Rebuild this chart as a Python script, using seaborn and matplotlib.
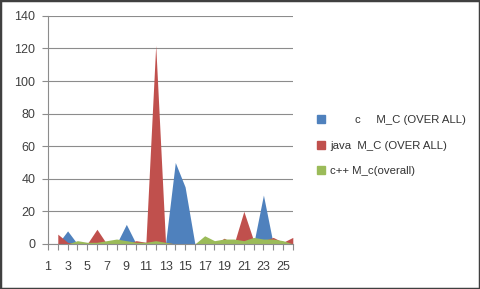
import numpy as np
import matplotlib
matplotlib.use('Agg')
import matplotlib.pyplot as plt
import matplotlib.patches as mpatches
import seaborn as sns

# categories and series values
categories = list(range(1, 27))
c_vals = [np.nan, 0, 8, 0, 0, 0, 0, 0, 12, 0, 0, 0, 0, 50, 35, 0, 0, 0, 0, 0, 0, 0, 30, 0, 0, 0]
java_vals = [np.nan, 6, 1, 0, 0, 9, 0, 0, 0, 2, 1, 122, 1, 0, 0, 0, 0, 0, 3.5, 0, 20, 2, 2, 4, 1, 4]
cpp_vals = [np.nan, 0, 0, 2, 1, 1, 2, 3, 2, 1, 1, 2, 1, 0, 0, 0, 5, 2, 3, 3, 2, 4, 3, 3, 2, 0]
labels = ['        c     M_C (OVER ALL)', 'java  M_C (OVER ALL)', 'c++ M_c(overall)']
colors = ['#4F81BD', '#C0504D', '#9BBB59']

sns.set_style('white')
plt.rcParams['font.family'] = ['Liberation Sans', 'DejaVu Sans']

fig = plt.figure(figsize=(4.8, 2.89), dpi=100)
ax = fig.add_axes([0.1, 0.156, 0.51, 0.789])

for vals, col in zip([c_vals, java_vals, cpp_vals], colors):
    ax.fill_between(categories, 0, vals, color=col, linewidth=0)

ax.set_xlim(1, 26)
ax.set_ylim(0, 140)
ax.set_yticks(range(0, 141, 20))
ax.set_xticks(categories)
ax.set_xticklabels([str(c) if c % 2 == 1 else '' for c in categories])
ax.yaxis.grid(True, color='#8c8c8c', linewidth=0.8)
ax.set_axisbelow(True)
for s in ['top', 'right']:
    ax.spines[s].set_visible(False)
ax.spines['left'].set_color('#8c8c8c')
ax.spines['bottom'].set_color('#8c8c8c')
ax.tick_params(axis='x', length=4, color='#8c8c8c', direction='out', bottom=True, labelsize=9, pad=8, labelcolor='#404040')
ax.tick_params(axis='y', length=4, color='#8c8c8c', direction='out', left=True, labelsize=9, pad=5, labelcolor='#404040')

handles = [mpatches.Patch(color=c) for c in colors]
fig.legend(handles, labels, loc='upper left', bbox_to_anchor=(0.64, 0.636), frameon=False,
           fontsize=8.2, handlelength=0.7, handleheight=0.7, handletextpad=0.4, labelspacing=1.35,
           labelcolor='#333333')

fig.patches.append(mpatches.Rectangle((0, 0), 1, 1, transform=fig.transFigure, fill=False,
                                      edgecolor='#404040', linewidth=2.5))

fig.savefig('out.png', dpi=100)
